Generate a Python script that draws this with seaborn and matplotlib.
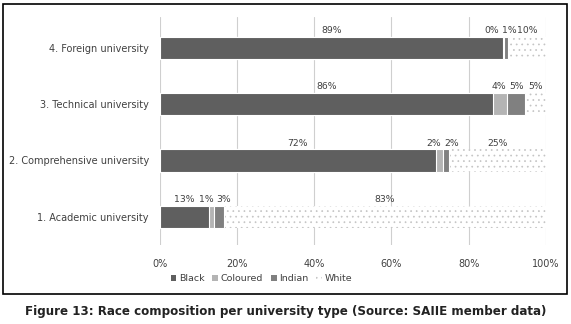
import numpy as np
import pandas as pd
import matplotlib
matplotlib.use("Agg")
from matplotlib import pyplot as plt
from matplotlib.patches import Rectangle, Patch
import seaborn as sns

universities = ["4. Foreign university", "3. Technical university",
                "2. Comprehensive university", "1. Academic university"]
races = ["Black", "Coloured", "Indian", "White"]
black = [88.9, 86.3, 71.5, 12.7]
coloured = [0.3, 3.6, 1.8, 1.2]
indian = [1.0, 4.7, 1.6, 2.6]
white = [9.8, 5.4, 25.1, 83.5]
label_text = [["89%", "0%", "1%", "10%"],
              ["86%", "4%", "5%", "5%"],
              ["72%", "2%", "2%", "25%"],
              ["13%", "1%", "3%", "83%"]]
xticks = [0, 20, 40, 60, 80, 100]
xtick_labels = ["0%", "20%", "40%", "60%", "80%", "100%"]

colors = {"Black": "#5f5f5f", "Coloured": "#b4b4b4", "Indian": "#808080", "White": "white"}
txt = "#404040"

sns.set_style("white")
plt.rcParams["font.family"] = ["DejaVu Sans"]
plt.rcParams["hatch.color"] = "#c4c4c4"
plt.rcParams["hatch.linewidth"] = 0.5

vals = np.array([black, coloured, indian, white]).T
cum = vals.cumsum(axis=1)

fig = plt.figure(figsize=(5.71, 3.24), dpi=100)
ax = fig.add_axes([0.280, 0.244, 0.676, 0.704])

# draw cumulative layers from the right-most segment backwards
for j in range(len(races) - 1, -1, -1):
    df = pd.DataFrame({"uni": universities, "val": cum[:, j]})
    sns.barplot(data=df, x="val", y="uni", orient="h", color=colors[races[j]],
                width=0.4, ax=ax, saturation=1, edgecolor="white", linewidth=0.8)
    if races[j] == "White":
        for p in ax.patches:
            p.set_hatch("...")
            p.set_edgecolor("#c4c4c4")
            p.set_linewidth(0)

# value labels, centred on segments, spread apart where they would overlap
# (the last label stays put, the others give way)
min_gap = 4.6
for i in range(len(universities)):
    starts = cum[i] - vals[i]
    pos = list(starts + vals[i] / 2)
    last = len(pos) - 1
    for _ in range(60):
        for k in range(last):
            gap = pos[k + 1] - pos[k]
            if gap < min_gap:
                if k + 1 == last:
                    pos[k] -= min_gap - gap
                else:
                    d = (min_gap - gap) / 2
                    pos[k] -= d
                    pos[k + 1] += d
    for k in range(len(pos)):
        ax.text(pos[k], i - 0.23, label_text[i][k], ha="center", va="bottom",
                fontsize=6.7, color=txt)

ax.set_xlim(0, 100)
ax.set_ylim(3.5, -0.55)
ax.set_xticks(xticks)
ax.set_xticklabels(xtick_labels, fontsize=7, color=txt)
ax.tick_params(axis="y", labelsize=7.0, labelcolor=txt, length=0, pad=8)
ax.tick_params(axis="x", length=0, pad=10)
ax.set_xlabel("")
ax.set_ylabel("")
ax.grid(axis="x", color="#cfcfcf", linewidth=0.8)
ax.set_axisbelow(True)
for s in ax.spines.values():
    s.set_visible(False)

handles = [Patch(facecolor=colors[r], edgecolor="#c4c4c4" if r == "White" else colors[r],
                 hatch="..." if r == "White" else None, linewidth=0) for r in races]
fig.legend(handles, races, loc="center", bbox_to_anchor=(0.458, 0.14), ncol=4, frameon=False,
           fontsize=6.8, handlelength=0.6, handleheight=0.6, handletextpad=0.3,
           columnspacing=0.8, labelcolor=txt)

# chart border and caption
fig.patches.append(Rectangle((3 / 571, 1 - 294 / 324), 564 / 571, 290 / 324,
                             transform=fig.transFigure, fill=False, edgecolor="black",
                             linewidth=1.2))
fig.text(0.5, 1 - 312 / 324, "Figure 13: Race composition per university type (Source: SAIIE member data)",
         ha="center", va="center", fontsize=8.6, fontweight="bold", color="#222222")

fig.savefig("out.png", dpi=100)
